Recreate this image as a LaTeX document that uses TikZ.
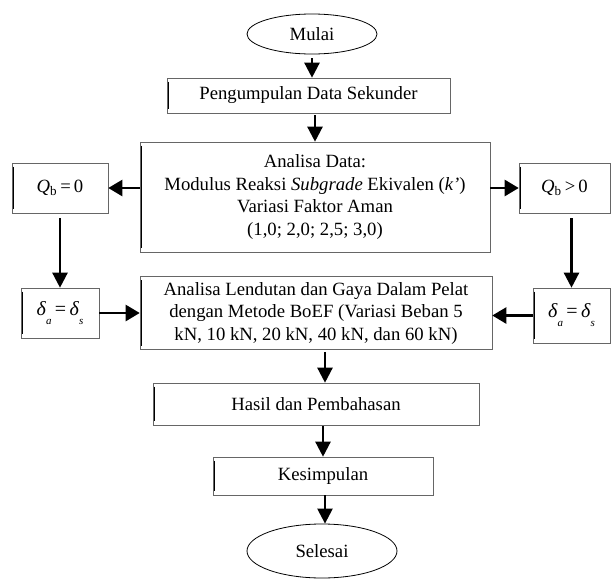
\documentclass[tikz,border=0pt]{standalone}
\usepackage{fontspec}
\setmainfont{Liberation Serif}
\usetikzlibrary{shapes.geometric,arrows.meta}
\newcommand{\dlt}{{\fontsize{20}{22}\selectfont\textit{δ}\raisebox{-9pt}{\fontsize{11}{11}\selectfont\textit{a}}\,=\,\textit{δ}\raisebox{-9pt}{\fontsize{11}{11}\selectfont\textit{s}}}}
\begin{document}
\begin{tikzpicture}[x=1pt,y=-1pt,
  every node/.style={font=\fontsize{18.7}{22.5}\selectfont},
  box/.style={draw=black!60, line width=0.6pt, rectangle, align=center, inner sep=2pt,
    append after command={([xshift=1.6pt,yshift=-4pt]\tikzlastnode.north west) edge[line width=1.3pt, draw=black] ([xshift=1.6pt,yshift=4pt]\tikzlastnode.south west)}},
  oval/.style={draw=black, line width=0.8pt, ellipse, inner sep=0pt},
  arr/.style={line width=2.4pt, -{Triangle[width=15pt,length=15pt]}},
  harr/.style={line width=2.4pt, -{Triangle[width=16pt,length=14pt]}}]
\fill[white] (0,0) rectangle (611,581);
\useasboundingbox (0,0) rectangle (611,581);

\node[oval, minimum width=130, minimum height=40] (mulai) at (312,34) {Mulai};
\node[box, minimum width=283, minimum height=35] (peng) at (308.5,95.5) {Pengumpulan Data Sekunder};
\node[box, minimum width=350, minimum height=110] (anal) at (315,197)
  {Analisa Data:\\Modulus Reaksi \textit{Subgrade} Ekivalen (\textit{k’})\\Variasi Faktor Aman\\(1,0; 2,0; 2,5; 3,0)};
\node[box, minimum width=352, minimum height=73] (lend) at (316,313)
  {Analisa Lendutan dan Gaya Dalam Pelat\\dengan Metode BoEF (Variasi Beban 5\\kN, 10 kN, 20 kN, 40 kN, dan 60 kN)};
\node[box, minimum width=326, minimum height=42] (hasil) at (316,404) {Hasil dan Pembahasan};
\node[box, minimum width=220, minimum height=38] (kes) at (323,476) {Kesimpulan};
\node[oval, minimum width=150, minimum height=54] (sel) at (322,551) {Selesai};

\node[box, minimum width=96, minimum height=50] (q0) at (60,188) {\textit{Q}\textsubscript{b}\,=\,0};
\node[box, minimum width=91, minimum height=50] (q1) at (564.5,188) {\textit{Q}\textsubscript{b}\,>\,0};
\node[box, minimum width=78, minimum height=50] (d0) at (60,313) {\dlt};
\node[box, minimum width=77, minimum height=55] (d1) at (571.5,315.5) {\dlt};

\draw[arr] ([yshift=-4pt]mulai.south) -- (mulai.south |- peng.north);
\draw[arr] ([yshift=-2pt]anal.north |- peng.south) -- (anal.north);
\draw[arr] ([xshift=9pt,yshift=-2pt]lend.south) -- ([xshift=9pt]lend.south |- hasil.north);
\draw[arr] ([yshift=-1pt]kes.north |- hasil.south) -- (kes.north);
\draw[arr] ([xshift=2pt]kes.south) -- ([xshift=2pt]kes.south |- sel.north);

\draw[harr] (anal.west |- q0) -- (q0.east);
\draw[harr] (anal.east |- q1) -- (q1.west);
\draw[arr, shorten <=5pt] (q0.south) -- (d0.north);
\draw[arr, shorten <=5pt] (d1.north |- q1.south) -- (d1.north);
\draw[harr] (d0.east) -- (d0.east -| lend.west);
\draw[harr] (d1.west) -- (d1.west -| lend.east);
\end{tikzpicture}
\end{document}
